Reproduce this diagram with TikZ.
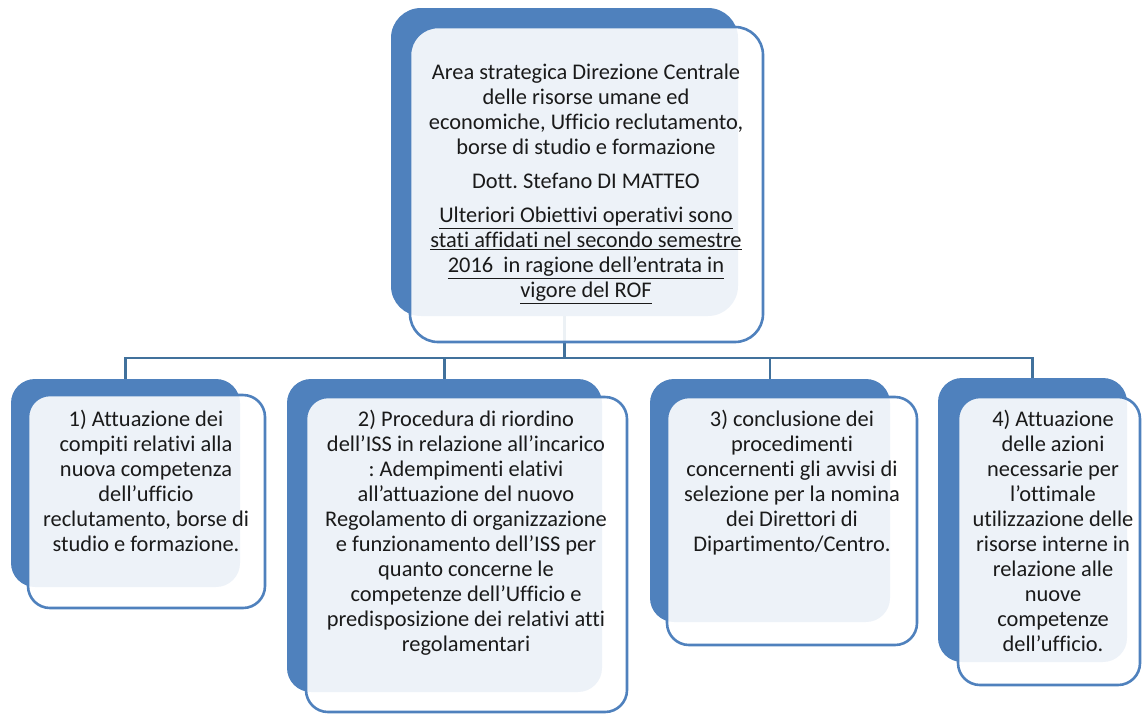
\documentclass[tikz,border=0pt]{standalone}
\usepackage{fontspec}
\setmainfont[Ligatures=NoCommon]{Carlito}
\frenchspacing
\definecolor{backblue}{HTML}{4F81BD}
\definecolor{linkblue}{HTML}{41719C}
\definecolor{txt}{HTML}{1A1A1A}
\begin{document}
\begin{tikzpicture}[x=1pt,y=-1pt,
  backbox/.style={draw=none,fill=backblue,rounded corners=24pt,inner sep=0pt,outer sep=0pt},
  frontbox/.style={draw=backblue,line width=2.6pt,fill=white,fill opacity=0.9,draw opacity=1,rounded corners=22pt,inner sep=0pt,outer sep=0pt},
  label/.style={align=center,text=txt,inner sep=0pt,font=\fontsize{22.4}{25}\selectfont},
  link/.style={draw=linkblue,line width=2.8pt}]
\useasboundingbox (0,0) rectangle (1142,715);
% back boxes
\node[backbox,rounded corners=30pt,minimum width=347pt,minimum height=308pt] (b0) at (564.5,162) {};
\node[backbox,minimum width=229pt,minimum height=208pt] (b1) at (125.5,483) {};
\node[backbox,minimum width=315pt,minimum height=313pt] (b2) at (444.5,535.5) {};
\node[backbox,minimum width=240pt,minimum height=243pt] (b3) at (770,500.5) {};
\node[backbox,minimum width=189pt,minimum height=284pt] (b4) at (1032.5,520) {};
% connectors
\coordinate (h0) at (564.5,358);
\draw[link] (b0.south) -- (h0);
\coordinate (hl) at (b1.north |- h0);
\coordinate (hr) at (b4.north |- h0);
\draw[link,line cap=rect] (hl) -- (hr);
\draw[link] (hl) -- (b1.north);
\draw[link] (b2.north |- h0) -- (b2.north);
\draw[link] (b3.north |- h0) -- (b3.north);
\draw[link] (hr) -- (b4.north);
% front boxes
\node[frontbox,rounded corners=28pt,minimum width=353pt,minimum height=315pt] (f0) at (586.5,184.5) {};
\node[frontbox,minimum width=237pt,minimum height=213pt] (f1) at (146.5,501.5) {};
\node[frontbox,minimum width=321pt,minimum height=315pt] (f2) at (466.5,554.5) {};
\node[frontbox,minimum width=250pt,minimum height=248pt] (f3) at (792,521) {};
\node[frontbox,minimum width=182pt,minimum height=288pt] (f4) at (1049,541) {};
% texts
\node[label] (t0) at (586,184) {Area strategica Direzione Centrale\\
delle risorse umane ed\\
economiche, Ufficio reclutamento,\\
borse di studio e formazione\\[9pt]
Dott. Stefano DI MATTEO\\[9pt]
\underline{Ulteriori Obiettivi operativi sono}\\
\underline{stati affidati nel secondo semestre}\\
\underline{2016\ \ in ragione dell’entrata in}\\
\underline{vigore del ROF}};
\node[label,anchor=north] (t1) at (146,410) {1) Attuazione dei\\
compiti relativi alla\\
nuova competenza\\
dell’ufficio\\
reclutamento, borse di\\
studio e formazione.};
\node[label,anchor=north] (t2) at (466,410) {2) Procedura di riordino\\
dell’ISS in relazione all’incarico\\
: Adempimenti elativi\\
all’attuazione del nuovo\\
Regolamento di organizzazione\\
e funzionamento dell’ISS per\\
quanto concerne le\\
competenze dell’Ufficio e\\
predisposizione dei relativi atti\\
regolamentari};
\node[label,anchor=north] (t3) at (792,410) {3) conclusione dei\\
procedimenti\\
concernenti gli avvisi di\\
selezione per la nomina\\
dei Direttori di\\
Dipartimento/Centro.};
\node[label,anchor=north] (t4) at (1053,410) {4) Attuazione\\
delle azioni\\
necessarie per\\
l’ottimale\\
utilizzazione delle\\
risorse interne in\\
relazione alle\\
nuove\\
competenze\\
dell’ufficio.};
\end{tikzpicture}
\end{document}
